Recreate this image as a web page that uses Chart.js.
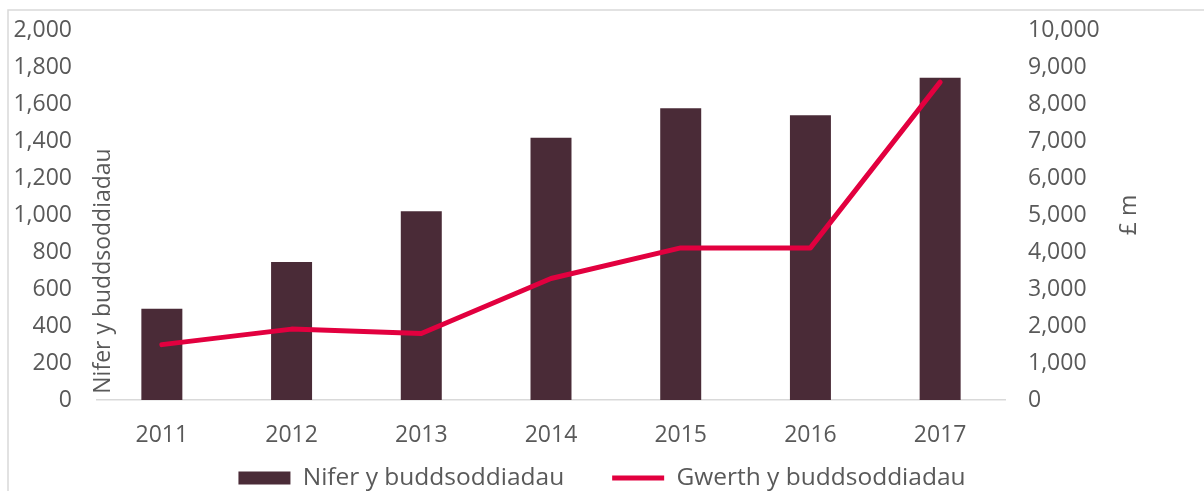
<!DOCTYPE html>
<html>
<head>
<meta charset="utf-8">
<script src="https://cdn.jsdelivr.net/npm/chart.js@4/dist/chart.umd.min.js"></script>
<style>
  html, body { margin: 0; padding: 0; background: #fff; }
  #wrap { width: 1204px; height: 491px; }
</style>
</head>
<body>
<div id="wrap"><canvas id="myChart" width="1204" height="491"></canvas></div>
<script>
var years = ['2011', '2012', '2013', '2014', '2015', '2016', '2017'];
var nifer = [494, 748, 1023, 1421, 1581, 1542, 1746];
var gwerth = [1500, 1920, 1800, 3290, 4120, 4120, 8610];
var leftTitle = 'Nifer y buddsoddiadau';
var rightTitle = '£ m';

var textGrey = '#595959';
var fontName = "'Open Sans', sans-serif";

// frame lines, rotated axis titles, and a shorter legend box
var extras = {
  id: 'extras',
  beforeInit: function (chart) {
    var fit = chart.legend.fit;
    chart.legend.fit = function () {
      fit.bind(chart.legend)();
      this.height = 41;
    };
  },
  afterLayout: function (chart) {
    // legend padding is large for the gap between items, so pull the box up
    var lg = chart.legend;
    lg.top = 417.75;
    lg.bottom = 491;
    lg.height = lg.bottom - lg.top;
  },
  beforeDraw: function (chart) {
    var c = chart.ctx;
    c.save();
    c.strokeStyle = '#d9d9d9';
    c.lineWidth = 1.5;
    c.beginPath();
    c.moveTo(8, 491);
    c.lineTo(8, 10);
    c.lineTo(1204, 10);
    c.stroke();
    c.restore();
  },
  afterDraw: function (chart) {
    var c = chart.ctx;
    c.save();
    c.fillStyle = textGrey;
    c.font = '23px ' + fontName;
    c.textAlign = 'center';
    c.textBaseline = 'middle';
    c.translate(103, 271);
    c.rotate(-Math.PI / 2);
    c.fillText(leftTitle, 0, 0);
    c.restore();
    c.save();
    c.fillStyle = textGrey;
    c.font = '23px ' + fontName;
    c.textAlign = 'center';
    c.textBaseline = 'middle';
    c.translate(1129, 215);
    c.rotate(-Math.PI / 2);
    c.fillText(rightTitle, 0, 0);
    c.restore();
  }
};

var ctx = document.getElementById('myChart');
var myChart = new Chart(ctx, {
  type: 'bar',
  data: {
    labels: years,
    datasets: [{
      type: 'bar',
      label: 'Nifer y buddsoddiadau',
      data: nifer,
      backgroundColor: '#4a2b37',
      borderWidth: 0,
      barPercentage: 0.316,
      categoryPercentage: 1,
      pointStyle: 'rect',
      yAxisID: 'y',
      order: 1
    }, {
      type: 'line',
      label: 'Gwerth y buddsoddiadau',
      data: gwerth,
      borderColor: '#e2003f',
      backgroundColor: '#e2003f',
      borderWidth: 5,
      borderCapStyle: 'round',
      borderJoinStyle: 'round',
      pointRadius: 0,
      pointStyle: 'line',
      tension: 0,
      yAxisID: 'y1',
      order: 0
    }]
  },
  options: {
    responsive: false,
    animation: false,
    layout: { padding: { top: 15, left: 0, right: 0, bottom: 0 } },
    plugins: {
      tooltip: { enabled: false },
      legend: {
        position: 'bottom',
        labels: {
          usePointStyle: true,
          pointStyleWidth: 52,
          boxHeight: 13,
          padding: 48,
          color: textGrey,
          font: { family: fontName, size: 24.5 },
          sort: function (a, b) { return a.datasetIndex - b.datasetIndex; }
        }
      }
    },
    scales: {
      x: {
        grid: { display: false },
        border: { display: true, color: '#d9d9d9', width: 1.5 },
        ticks: { color: textGrey, font: { family: fontName, size: 23 }, padding: 14 },
        afterFit: function (axis) { axis.height = 50; }
      },
      y: {
        position: 'left',
        min: 0, max: 2000,
        grid: { display: false },
        border: { display: false },
        ticks: {
          stepSize: 200, color: textGrey, padding: 17,
          font: { family: fontName, size: 23 },
          callback: function (v) { return v.toLocaleString('en-US'); }
        },
        afterFit: function (axis) { axis.width = 97; }
      },
      y1: {
        position: 'right',
        min: 0, max: 10000,
        grid: { display: false },
        border: { display: false },
        ticks: {
          stepSize: 1000, color: textGrey, padding: 15,
          font: { family: fontName, size: 23 },
          callback: function (v) { return v.toLocaleString('en-US'); }
        },
        afterFit: function (axis) { axis.width = 199; }
      }
    }
  },
  plugins: [extras]
});
</script>
</body>
</html>
